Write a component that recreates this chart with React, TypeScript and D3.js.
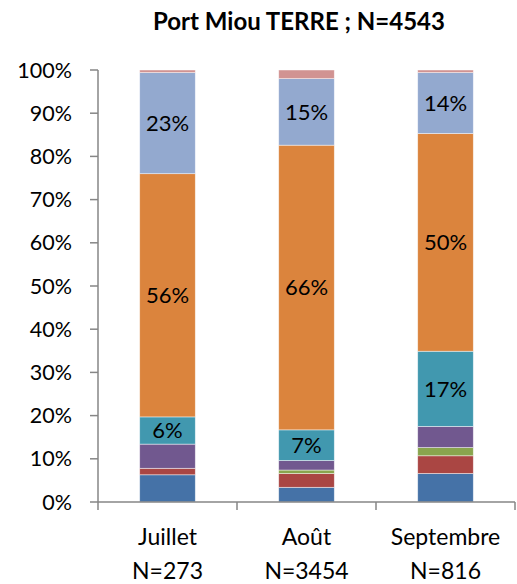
import React from "react";
import * as d3 from "d3";

const categories = ["Juillet", "Août", "Septembre"];
const counts = ["N=273", "N=3454", "N=816"];
const yTicks = [0, 10, 20, 30, 40, 50, 60, 70, 80, 90, 100];

// percentages per month, bottom to top
const serie1 = [6.3, 3.4, 6.6];
const serie2 = [1.5, 3.2, 4.1];
const serie3 = [0, 0.8, 1.9];
const serie4 = [5.6, 2.2, 4.9];
const serie5 = [6.3, 7.1, 17.4];
const serie6 = [56.3, 65.9, 50.4];
const serie7 = [23.4, 15.4, 14.1];
const serie8 = [0.6, 2.0, 0.6];

const series = [serie1, serie2, serie3, serie4, serie5, serie6, serie7, serie8];
const colors = ["#4572A7", "#AA4643", "#89A54E", "#71588F", "#4198AF", "#DB843D", "#93A9CF", "#D19392"];
const labelled = [4, 5, 6];

const width = 517;
const height = 584;
const margin = { top: 70, right: 2, bottom: 82, left: 98 };
const font = "Lato, 'Open Sans', sans-serif";

export default function App() {
  const innerW = width - margin.left - margin.right;
  const innerH = height - margin.top - margin.bottom;

  const x = d3.scaleBand().domain(categories).range([0, innerW]).paddingInner(0.6).paddingOuter(0.3);
  const y = d3.scaleLinear().domain([0, 100]).range([innerH, 0]);

  const rows = categories.map((c, i) => {
    const r: any = { cat: c };
    series.forEach((s, k) => (r["s" + k] = s[i]));
    return r;
  });
  const stacked = d3.stack().keys(series.map((_, k) => "s" + k))(rows);

  const step = innerW / categories.length;

  return (
    <svg width={width} height={height} style={{ position: "absolute", left: 0, top: 0 }}>
      <text x={299} y={30} textAnchor="middle" fontFamily={font} fontWeight="bold" fontSize={24}>
        Port Miou TERRE ; N=4543
      </text>
      <g transform={`translate(${margin.left},${margin.top})`}>
        {stacked.map((layer, k) =>
          layer.map((d, i) => (
            <rect
              key={k + "-" + i}
              x={x(categories[i])}
              y={y(d[1])}
              width={x.bandwidth()}
              height={Math.max(0, y(d[0]) - y(d[1]))}
              fill={colors[k]}
              stroke="#ffffff"
              strokeOpacity={0.6}
              strokeWidth={0.75}
            />
          ))
        )}
        {stacked.map((layer, k) =>
          labelled.includes(k)
            ? layer.map((d, i) => (
                <text
                  key={"l" + k + "-" + i}
                  x={(x(categories[i]) as number) + x.bandwidth() / 2}
                  y={(y(d[0]) + y(d[1])) / 2}
                  dy="0.35em"
                  textAnchor="middle"
                  fontFamily={font}
                  fontSize={22}
                  fill="#000"
                >
                  {Math.round(series[k][i])}%
                </text>
              ))
            : null
        )}
        <line x1={0} x2={0} y1={0} y2={innerH} stroke="#868686" strokeWidth={1.5} />
        {yTicks.map((t) => (
          <g key={t} transform={`translate(0,${y(t)})`}>
            <line x1={-8} x2={0} stroke="#868686" strokeWidth={1.5} />
            <text x={-26} dy="0.35em" textAnchor="end" fontFamily={font} fontSize={21.5}>
              {t}%
            </text>
          </g>
        ))}
        <line x1={0} x2={innerW} y1={innerH} y2={innerH} stroke="#868686" strokeWidth={1.5} />
        {d3.range(categories.length + 1).map((i) => (
          <line key={i} x1={i * step} x2={i * step} y1={innerH} y2={innerH + 8} stroke="#868686" strokeWidth={1.5} />
        ))}
        {categories.map((c, i) => (
          <g key={c} transform={`translate(${(x(c) as number) + x.bandwidth() / 2},${innerH})`}>
            <text y={43} textAnchor="middle" fontFamily={font} fontSize={23}>
              {c}
            </text>
            <text y={77} textAnchor="middle" fontFamily={font} fontSize={23}>
              {counts[i]}
            </text>
          </g>
        ))}
      </g>
    </svg>
  );
}
